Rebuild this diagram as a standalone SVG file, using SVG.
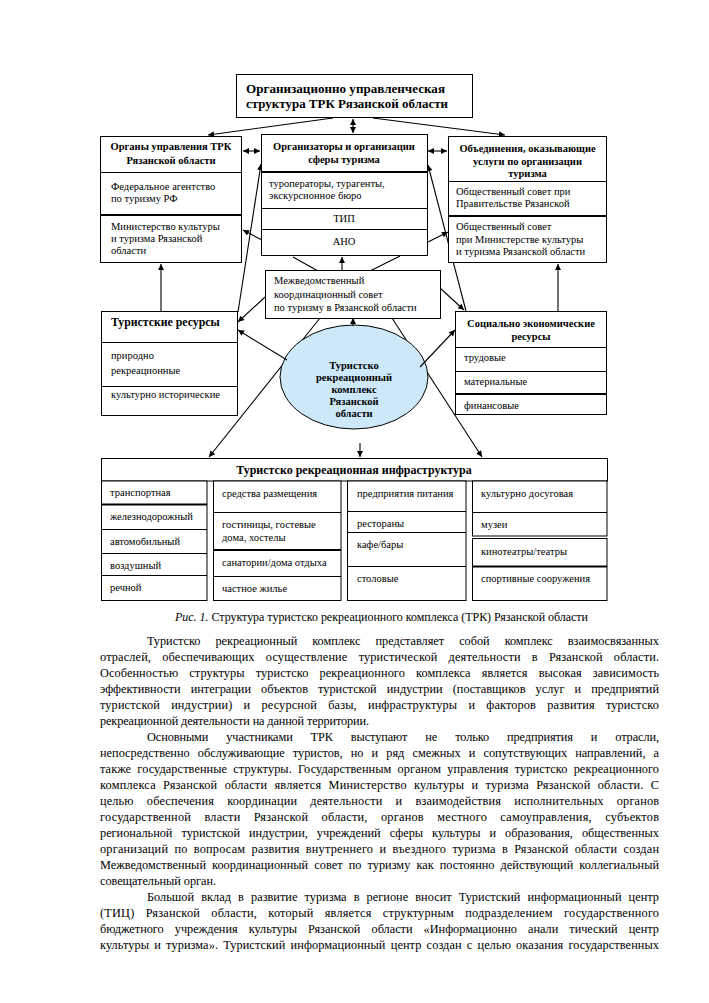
<svg xmlns="http://www.w3.org/2000/svg" width="709" height="1003" viewBox="0 0 709 1003" font-family="'Liberation Serif', 'Times New Roman', 'DejaVu Serif', serif">
<defs>
<marker id="ah" viewBox="0 0 10 10" refX="10" refY="5" markerWidth="7" markerHeight="6" markerUnits="userSpaceOnUse" orient="auto-start-reverse"><path d="M0,0 L10,5 L0,10 z" fill="#000"/></marker>
</defs>
<style>
.b{fill:#fff;stroke:#000;stroke-width:1}
.d{stroke:#000;stroke-width:1}
.dt{stroke:#000;stroke-width:2}
.c{fill:none;stroke:#000;stroke-width:1.1}
.a{marker-end:url(#ah)}
.aa{marker-end:url(#ah);marker-start:url(#ah)}
text{font-family:'Liberation Serif','Times New Roman','DejaVu Serif',serif;fill:#000}
.h{font-weight:bold;font-size:10.5px}
.t{font-size:10.5px}
.ht{font-weight:bold;font-size:13px}
.m{text-anchor:middle}
.p{font-size:12.3px}
</style>
<rect width="709" height="1003" fill="#fff"/>

<g id="connectors">
<path class="c a" d="M333,118 L208,135"/>
<path class="c a" d="M373,118 L505,135"/>
<path class="c aa" d="M353,119 L353,133"/>
<path class="c aa" d="M243,151 L260,151"/>
<path class="c aa" d="M428,151 L447,151"/>
<path class="c a" d="M238,312 L261,164"/>
<path class="c a" d="M466,311 L428,165"/>
<path class="c a" d="M318,271 L293,257 M262,240 L243,230"/>
<path class="c a" d="M370,271 L400,256 M428,242 L448,232"/>
<path class="c a" d="M342,271 L342,257"/>
<path class="c a" d="M265,297 L238,322"/>
<path class="c a" d="M440,288 L464,310"/>
<path class="c a" d="M161,311 L161,264"/>
<path class="c a" d="M558,311 L558,264"/>
<path class="c a" d="M320,318 L209,457"/>
<path class="c a" d="M392,318 L482,457"/>
<path class="c a" d="M360,443 L360,457"/>
</g>

<g id="trk">
<ellipse cx="354" cy="377" rx="74" ry="52" fill="#cde9f9" stroke="#000" stroke-width="1"/>
<text class="h m" x="354" y="369">Туристско</text>
<text class="h m" x="354" y="381">рекреационный</text>
<text class="h m" x="354" y="393">комплекс</text>
<text class="h m" x="354" y="405">Рязанской</text>
<text class="h m" x="354" y="417">области</text>
</g>
<g id="ellipse-arrows">
<path class="c a" d="M353,326 L353,318"/>
<path class="c a" d="M287,360 L238,330"/>
<path class="c a" d="M420,367 L455,330"/>
</g>

<g id="title">
<rect class="b" x="236.5" y="74.5" width="236" height="43"/>
<text class="ht" x="246" y="92.5" textLength="199" lengthAdjust="spacingAndGlyphs">Организационно управленческая</text>
<text class="ht" x="246" y="108" textLength="202" lengthAdjust="spacingAndGlyphs">структура ТРК Рязанской области</text>
</g>

<g id="organy">
<rect class="b" x="100.5" y="136.5" width="141" height="126"/>
<line class="d" x1="100.5" y1="172.5" x2="241.5" y2="172.5"/>
<line class="dt" x1="100.5" y1="215" x2="241.5" y2="215"/>
<text class="h m" x="171" y="150">Органы управления ТРК</text>
<text class="h m" x="171" y="164">Рязанской области</text>
<text class="t" x="111" y="189.5">Федеральное агентство</text>
<text class="t" x="111" y="201.5">по туризму РФ</text>
<text class="t" x="111" y="229.5">Министерство культуры</text>
<text class="t" x="111" y="241.5">и туризма Рязанской</text>
<text class="t" x="111" y="253.5">области</text>
</g>

<g id="organizatory">
<rect class="b" x="261.5" y="134.5" width="166" height="121"/>
<line class="dt" x1="261.5" y1="172" x2="427.5" y2="172"/>
<line class="d" x1="261.5" y1="208.5" x2="427.5" y2="208.5"/>
<line class="d" x1="261.5" y1="229.5" x2="427.5" y2="229.5"/>
<text class="h m" x="344" y="150">Организаторы и организации</text>
<text class="h m" x="344" y="163">сферы туризма</text>
<text class="t" x="269" y="186.5">туроператоры, турагенты,</text>
<text class="t" x="269" y="198.5">экскурсионное бюро</text>
<text class="t m" x="344" y="221.5">ТИП</text>
<text class="t m" x="344" y="244.5">АНО</text>
</g>

<g id="obedineniya">
<rect class="b" x="448.5" y="136.5" width="158" height="126"/>
<line class="d" x1="448.5" y1="181.5" x2="606.5" y2="181.5"/>
<line class="dt" x1="448.5" y1="216" x2="606.5" y2="216"/>
<text class="h m" x="527.5" y="152">Объединения, оказывающие</text>
<text class="h m" x="527.5" y="165">услуги по организации</text>
<text class="h m" x="527.5" y="177">туризма</text>
<text class="t" x="456" y="194.5">Общественный совет при</text>
<text class="t" x="456" y="206.5">Правительстве Рязанской</text>
<text class="t" x="456" y="229.5">Общественный совет</text>
<text class="t" x="456" y="242.5">при Министерстве культуры</text>
<text class="t" x="456" y="254.5">и туризма Рязанской области</text>
</g>

<g id="mezhved">
<rect class="b" x="265.5" y="270.5" width="175" height="48"/>
<text class="t" x="274" y="283.5">Межведомственный</text>
<text class="t" x="274" y="297.5">координационный совет</text>
<text class="t" x="274" y="310.5">по туризму в Рязанской области</text>
</g>

<g id="turresursy">
<rect class="b" x="101.5" y="311.5" width="136" height="104"/>
<line class="d" x1="101.5" y1="342.5" x2="237.5" y2="342.5"/>
<line class="d" x1="101.5" y1="386.5" x2="237.5" y2="386.5"/>
<text x="111" y="326" style="font-weight:bold;font-size:11.8px">Туристские ресурсы</text>
<text class="t" x="111" y="358.5">природно</text>
<text class="t" x="111" y="373.5">рекреационные</text>
<text class="t" x="111" y="397.5">культурно исторические</text>
</g>

<g id="socresursy">
<rect class="b" x="455.5" y="311.5" width="151" height="103"/>
<line class="d" x1="455.5" y1="347.5" x2="606.5" y2="347.5"/>
<line class="d" x1="455.5" y1="371.5" x2="606.5" y2="371.5"/>
<line class="dt" x1="455.5" y1="394" x2="606.5" y2="394"/>
<text class="h m" x="531" y="327">Социально экономические</text>
<text class="h m" x="531" y="340">ресурсы</text>
<text class="t" x="464" y="360.5">трудовые</text>
<text class="t" x="464" y="384.5">материальные</text>
<text class="t" x="464" y="408.5">финансовые</text>
</g>

<g id="infra">
<rect class="b" x="101.5" y="458.5" width="506" height="22.5"/>
<text class="m" x="354" y="474" style="font-weight:bold;font-size:12px">Туристско рекреационная инфраструктура</text>
<rect class="b" x="101.5" y="481" width="105.5" height="119.5"/>
<line class="dt" x1="101.5" y1="504.5" x2="207" y2="504.5"/>
<line class="d" x1="101.5" y1="529.5" x2="207" y2="529.5"/>
<line class="d" x1="101.5" y1="553.5" x2="207" y2="553.5"/>
<line class="d" x1="101.5" y1="575.5" x2="207" y2="575.5"/>
<text class="t" x="110" y="495.5">транспортная</text>
<text class="t" x="110" y="519.5">железнодорожный</text>
<text class="t" x="110" y="544.5">автомобильный</text>
<text class="t" x="110" y="568.5">воздушный</text>
<text class="t" x="110" y="590.5">речной</text>
<rect class="b" x="213.5" y="481" width="127.5" height="119.5"/>
<line class="d" x1="213.5" y1="512.5" x2="341" y2="512.5"/>
<line class="dt" x1="213.5" y1="550" x2="341" y2="550"/>
<line class="d" x1="213.5" y1="576.5" x2="341" y2="576.5"/>
<text class="t" x="222" y="496.5">средства размещения</text>
<text class="t" x="222" y="527.5">гостиницы, гостевые</text>
<text class="t" x="222" y="540.5">дома, хостелы</text>
<text class="t" x="222" y="565.5">санатории/дома отдыха</text>
<text class="t" x="222" y="591.5">частное жилье</text>
<rect class="b" x="347.5" y="481" width="118.5" height="119.5"/>
<line class="d" x1="347.5" y1="511.5" x2="466" y2="511.5"/>
<line class="d" x1="347.5" y1="532.5" x2="466" y2="532.5"/>
<line class="d" x1="347.5" y1="566.5" x2="466" y2="566.5"/>
<text class="t" x="357" y="496.5">предприятия питания</text>
<text class="t" x="357" y="526.5">рестораны</text>
<text class="t" x="357" y="547.5">кафе/бары</text>
<text class="t" x="357" y="581.5">столовые</text>
<rect class="b" x="472.5" y="481" width="134.5" height="55"/>
<line class="d" x1="472.5" y1="512.5" x2="607" y2="512.5"/>
<rect class="b" x="472.5" y="538.5" width="134.5" height="62"/>
<line class="dt" x1="472.5" y1="566.5" x2="607" y2="566.5"/>
<text class="t" x="481" y="496.5">культурно досуговая</text>
<text class="t" x="481" y="527.5">музеи</text>
<text class="t" x="481" y="554.5">кинотеатры/театры</text>
<text class="t" x="481" y="581.5">спортивные сооружения</text>
</g>

<g id="caption">
<text x="175" y="621" style="font-size:12px" textLength="413" lengthAdjust="spacing"><tspan font-style="italic">Рис. 1.</tspan> Структура туристско рекреационного комплекса (ТРК) Рязанской области</text>
</g>

<g id="body">
<text class="p" x="147" y="645" textLength="512" lengthAdjust="spacing" word-spacing="12">Туристско рекреационный комплекс представляет собой комплекс взаимосвязанных</text>
<text class="p" x="100" y="661" textLength="559" lengthAdjust="spacing" word-spacing="8">отраслей, обеспечивающих осуществление туристической деятельности в Рязанской области.</text>
<text class="p" x="100" y="677" textLength="559" lengthAdjust="spacing" word-spacing="8">Особенностью структуры туристско рекреационного комплекса является высокая зависимость</text>
<text class="p" x="100" y="693" textLength="559" lengthAdjust="spacing" word-spacing="7">эффективности интеграции объектов туристской индустрии (поставщиков услуг и предприятий</text>
<text class="p" x="100" y="709" textLength="559" lengthAdjust="spacing" word-spacing="8">туристской индустрии) и ресурсной базы, инфраструктуры и факторов развития туристско</text>
<text class="p" x="100" y="725" textLength="269" lengthAdjust="spacing">рекреационной деятельности на данной территории.</text>
<text class="p" x="147" y="741" textLength="512" lengthAdjust="spacing" word-spacing="15">Основными участниками ТРК выступают не только предприятия и отрасли,</text>
<text class="p" x="100" y="757" textLength="559" lengthAdjust="spacing" word-spacing="5">непосредственно обслуживающие туристов, но и ряд смежных и сопутствующих направлений, а</text>
<text class="p" x="100" y="773" textLength="559" lengthAdjust="spacing" word-spacing="3">также государственные структуры. Государственным органом управления туристско рекреационного</text>
<text class="p" x="100" y="789" textLength="559" lengthAdjust="spacing" word-spacing="4">комплекса Рязанской области является Министерство культуры и туризма Рязанской области. С</text>
<text class="p" x="100" y="805" textLength="559" lengthAdjust="spacing" word-spacing="10">целью обеспечения координации деятельности и взаимодействия исполнительных органов</text>
<text class="p" x="100" y="821" textLength="559" lengthAdjust="spacing" word-spacing="10">государственной власти Рязанской области, органов местного самоуправления, субъектов</text>
<text class="p" x="100" y="837" textLength="559" lengthAdjust="spacing" word-spacing="6">региональной туристской индустрии, учреждений сферы культуры и образования, общественных</text>
<text class="p" x="100" y="853" textLength="559" lengthAdjust="spacing" word-spacing="3">организаций по вопросам развития внутреннего и въездного туризма в Рязанской области создан</text>
<text class="p" x="100" y="869" textLength="559" lengthAdjust="spacing" word-spacing="3">Межведомственный координационный совет по туризму как постоянно действующий коллегиальный</text>
<text class="p" x="100" y="885" textLength="116" lengthAdjust="spacing">совещательный орган.</text>
<text class="p" x="147" y="901" textLength="512" lengthAdjust="spacing" word-spacing="4">Большой вклад в развитие туризма в регионе вносит Туристский информационный центр</text>
<text class="p" x="100" y="917" textLength="559" lengthAdjust="spacing" word-spacing="8">(ТИЦ) Рязанской области, который является структурным подразделением государственного</text>
<text class="p" x="100" y="933" textLength="559" lengthAdjust="spacing" word-spacing="8">бюджетного учреждения культуры Рязанской области «Информационно анали тический центр</text>
<text class="p" x="100" y="949" textLength="559" lengthAdjust="spacing" word-spacing="2">культуры и туризма». Туристский информационный центр создан с целью оказания государственных</text>
</g>
</svg>
